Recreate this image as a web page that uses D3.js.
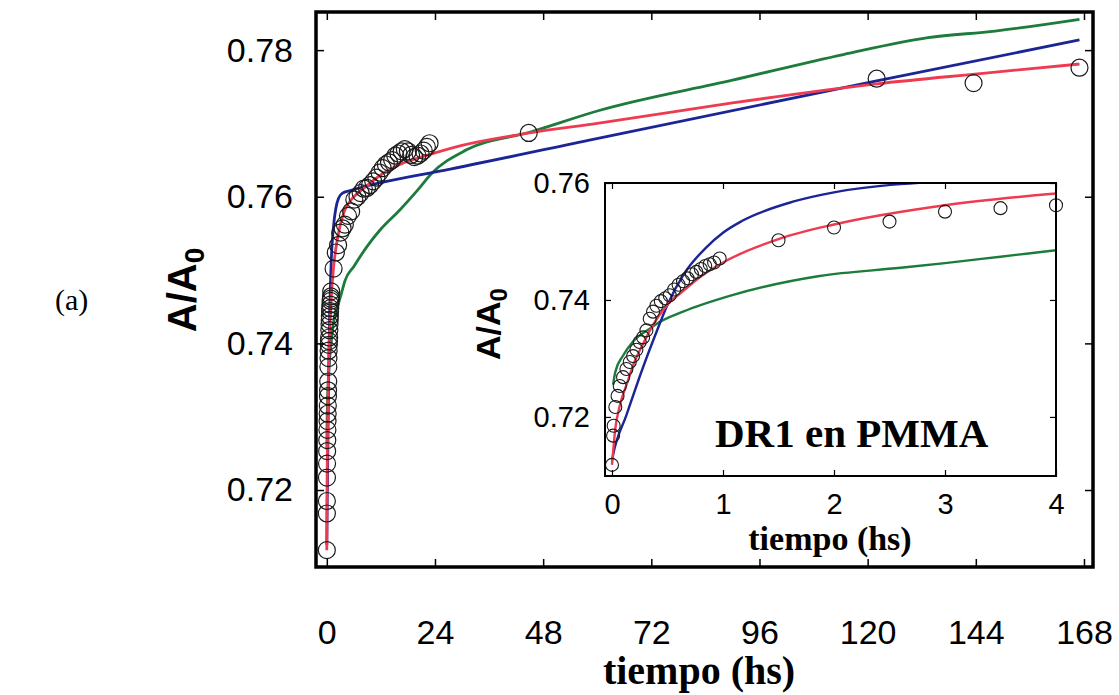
<!DOCTYPE html>
<html><head><meta charset="utf-8">
<script src="https://cdn.jsdelivr.net/npm/d3@7"></script>
<style>body{margin:0;background:#fff;} svg{display:block;}</style>
</head><body>
<svg id="chart" width="1119" height="695"></svg>
<script>
// ---------- data ----------
const obsTime = [0.00,0.01,0.015,0.03,0.05,0.07,0.10,0.13,0.16,0.19,0.22,0.25,0.28,0.31,0.34,0.37,0.40,0.44,0.48,0.52,0.56,0.60,0.64,0.68,0.72,0.76,0.80,0.84,0.88,0.92,0.97,
  1.5,2.0,2.5,3.0,3.5,4.0,
  4.7,5.4,6.1,6.8,7.5,8.2,8.9,9.6,10.3,11.0,11.7,12.4,13.1,13.8,14.5,15.2,15.9,16.6,17.3,18.0,18.7,19.4,20.1,20.8,21.5,22.2,22.8,
  44.8,122,143.5,167];
const obsValue = [0.7118,0.7168,0.7185,0.7217,0.7236,0.7253,0.7268,0.7282,0.7294,0.7304,0.7315,0.7328,0.7336,0.7348,0.7368,0.7380,0.7390,0.7398,0.7403,0.7408,0.7418,0.7426,0.7432,0.7437,0.7444,0.7448,0.7453,0.7458,0.7461,0.7464,0.7471,
  0.7502,0.7524,0.7534,0.7551,0.7557,0.7562,
  0.7574,0.7580,0.7596,0.7600,0.7605,0.7611,0.7612,0.7616,0.7621,0.7626,0.7633,0.7639,0.7644,0.7647,0.7650,0.7656,0.7659,0.7662,0.7665,0.7662,0.7657,0.7654,0.7656,0.7659,0.7663,0.7668,0.7673,
  0.7687,0.7761,0.7755,0.7776];

const redTime  = [0,0.03,0.07,0.14,0.19,0.28,0.36,0.5,0.64,0.8,1.0,1.5,2.0,3.0,4.0,6,8.7,12.5,17,22,30,45,60,90,122,145,167];
const redValue = [0.7118,0.718,0.7219,0.726,0.7288,0.7325,0.7354,0.7392,0.7415,0.7440,0.7464,0.7504,0.7529,0.7562,0.7582,0.7600,0.7614,0.7632,0.7646,0.7656,0.7670,0.7687,0.7700,0.7728,0.7754,0.7768,0.7781];

const blueTime  = [0,0.01,0.13,0.28,0.39,0.5,0.65,0.85,1.0,1.17,1.63,2.0,2.6,3.5,5,9,12.5,26,58,122,167];
const blueValue = [0.7125,0.7135,0.7203,0.7285,0.7340,0.7392,0.7445,0.7490,0.7515,0.7535,0.7568,0.7584,0.7598,0.7605,0.7608,0.7615,0.7620,0.7636,0.7677,0.7758,0.7814];

const greenTime  = [0.01,0.03,0.1,0.19,0.34,0.4,0.64,1.06,1.87,2.6,3.0,3.5,4.0,6,8.9,12,16.2,20,23.3,31,45,60.6,90,114.6,133.4,148.3,167];
const greenValue = [0.7255,0.7277,0.7305,0.7329,0.7351,0.7359,0.7380,0.7407,0.7441,0.7455,0.7463,0.7474,0.7485,0.7505,0.7532,0.7556,0.7582,0.7608,0.7632,0.7664,0.7688,0.7718,0.7759,0.7794,0.7817,0.7826,0.7842];

const mainXTicks = [0,24,48,72,96,120,144,168];
const mainYTicks = [0.72,0.74,0.76,0.78];
const insetXTicks = [0,1,2,3,4];
const insetYTicks = [0.72,0.74,0.76];

// ---------- drawing ----------
const svg = d3.select("#chart");
const colors = {red:"#ee3b50", blue:"#1c2596", green:"#1d7b3c"};
const sans = "'Liberation Sans', Arial, sans-serif";
const serif = "'Liberation Serif', 'Times New Roman', serif";

const M = {l:316, r:1093, t:12, b:567};
const x = d3.scaleLinear().domain([-2.4,170]).range([M.l,M.r]);
const y = d3.scaleLinear().domain([0.7095,0.7852]).range([M.b,M.t]);

const I = {l:605, r:1056, t:183, b:476};
const xi = d3.scaleLinear().domain([-0.063,4.0]).range([I.l,I.r]);
const yi = d3.scaleLinear().domain([0.7099,0.76]).range([I.b,I.t]);

const zip = (a,b)=>a.map((v,i)=>[v,b[i]]);
const series = [
  {c:colors.green, d:zip(greenTime,greenValue)},
  {c:colors.blue, d:zip(blueTime,blueValue)},
  {c:colors.red, d:zip(redTime,redValue)}
];
const obs = zip(obsTime,obsValue);

function axes(g, xs, ys, box, xt, yt, opts){
  const fmtY = d3.format(".2f");
  const b = g.append("g").attr("transform",`translate(0,${box.b})`)
    .call(d3.axisBottom(xs).tickValues(xt).tickSize(-opts.tick).tickPadding(opts.xpad).tickFormat(d3.format("d")));
  const tp = g.append("g").attr("transform",`translate(0,${box.t})`)
    .call(d3.axisTop(xs).tickValues(xt).tickSize(-opts.tick).tickFormat(""));
  const l = g.append("g").attr("transform",`translate(${box.l},0)`)
    .call(d3.axisLeft(ys).tickValues(yt).tickSize(-opts.tick).tickPadding(opts.ypad).tickFormat(fmtY));
  const r = g.append("g").attr("transform",`translate(${box.r},0)`)
    .call(d3.axisRight(ys).tickValues(yt).tickSize(-opts.tick).tickFormat(""));
  [b,tp,l,r].forEach(a=>{
    a.select(".domain").remove();
    a.selectAll("line").attr("stroke","#000").attr("stroke-width",opts.tw);
    a.selectAll("text").attr("font-family",sans).attr("font-size",opts.fs).attr("fill","#000");
  });
}

// main plot
const main = svg.append("g");
const lineM = d3.line().x(d=>x(d[0])).y(d=>y(d[1])).curve(d3.curveMonotoneX);
series.forEach(s=>{
  main.append("path").attr("d",lineM(s.d)).attr("fill","none")
    .attr("stroke",s.c).attr("stroke-width",2.8).attr("stroke-linejoin","round");
});
main.selectAll("circle.obs").data(obs).join("circle").attr("class","obs")
  .attr("cx",d=>x(d[0])).attr("cy",d=>y(d[1])).attr("r",8.5)
  .attr("fill","none").attr("stroke","#1a1a1a").attr("stroke-width",1.2);
axes(main, x, y, M, mainXTicks, mainYTicks, {tick:8, xpad:53, ypad:23, fs:34, tw:1.5});
main.append("rect").attr("x",M.l).attr("y",M.t).attr("width",M.r-M.l).attr("height",M.b-M.t)
  .attr("fill","none").attr("stroke","#000").attr("stroke-width",3.5);

// inset
const ins = svg.append("g");
ins.append("rect").attr("x",I.l).attr("y",I.t).attr("width",I.r-I.l).attr("height",I.b-I.t).attr("fill","#fff");
svg.append("defs").append("clipPath").attr("id","clipI").append("rect")
  .attr("x",I.l).attr("y",I.t).attr("width",I.r-I.l).attr("height",I.b-I.t);
const lineI = d3.line().x(d=>xi(d[0])).y(d=>yi(d[1])).curve(d3.curveMonotoneX);
const lg = ins.append("g").attr("clip-path","url(#clipI)");
series.forEach(s=>{
  lg.append("path").attr("d",lineI(s.d.filter(d=>d[0]<=4.5))).attr("fill","none")
    .attr("stroke",s.c).attr("stroke-width",2.4).attr("stroke-linejoin","round");
});
ins.selectAll("circle.obs").data(obs.filter(d=>d[0]<=4)).join("circle").attr("class","obs")
  .attr("cx",d=>xi(d[0])).attr("cy",d=>yi(d[1])).attr("r",6.5)
  .attr("fill","none").attr("stroke","#1a1a1a").attr("stroke-width",1.1);
axes(ins, xi, yi, I, insetXTicks, insetYTicks, {tick:6, xpad:17, ypad:15, fs:29, tw:1.2});
ins.append("rect").attr("x",I.l).attr("y",I.t).attr("width",I.r-I.l).attr("height",I.b-I.t)
  .attr("fill","none").attr("stroke","#000").attr("stroke-width",2);

// titles
svg.append("text").attr("x",699).attr("y",684).attr("text-anchor","middle")
  .attr("font-family",serif).attr("font-weight","bold").attr("font-size",40).text("tiempo (hs)");
const yt = svg.append("text").attr("transform","translate(196,290) rotate(-90)").attr("text-anchor","middle")
  .attr("font-family",sans).attr("font-weight","bold").attr("font-size",40);
yt.append("tspan").text("A/A");
yt.append("tspan").attr("dy","0.3em").attr("font-size",28).text("0");

svg.append("text").attr("x",830).attr("y",550).attr("text-anchor","middle")
  .attr("font-family",serif).attr("font-weight","bold").attr("font-size",34).text("tiempo (hs)");
const yti = svg.append("text").attr("transform","translate(500,324) rotate(-90)").attr("text-anchor","middle")
  .attr("font-family",sans).attr("font-weight","bold").attr("font-size",34);
yti.append("tspan").text("A/A");
yti.append("tspan").attr("dy","0.3em").attr("font-size",24).text("0");

svg.append("text").attr("x",715).attr("y",447)
  .attr("font-family",serif).attr("font-weight","bold").attr("font-size",41).text("DR1 en PMMA");
svg.append("text").attr("x",55).attr("y",310)
  .attr("font-family",serif).attr("font-size",30).text("(a)");
</script>
</body></html>
